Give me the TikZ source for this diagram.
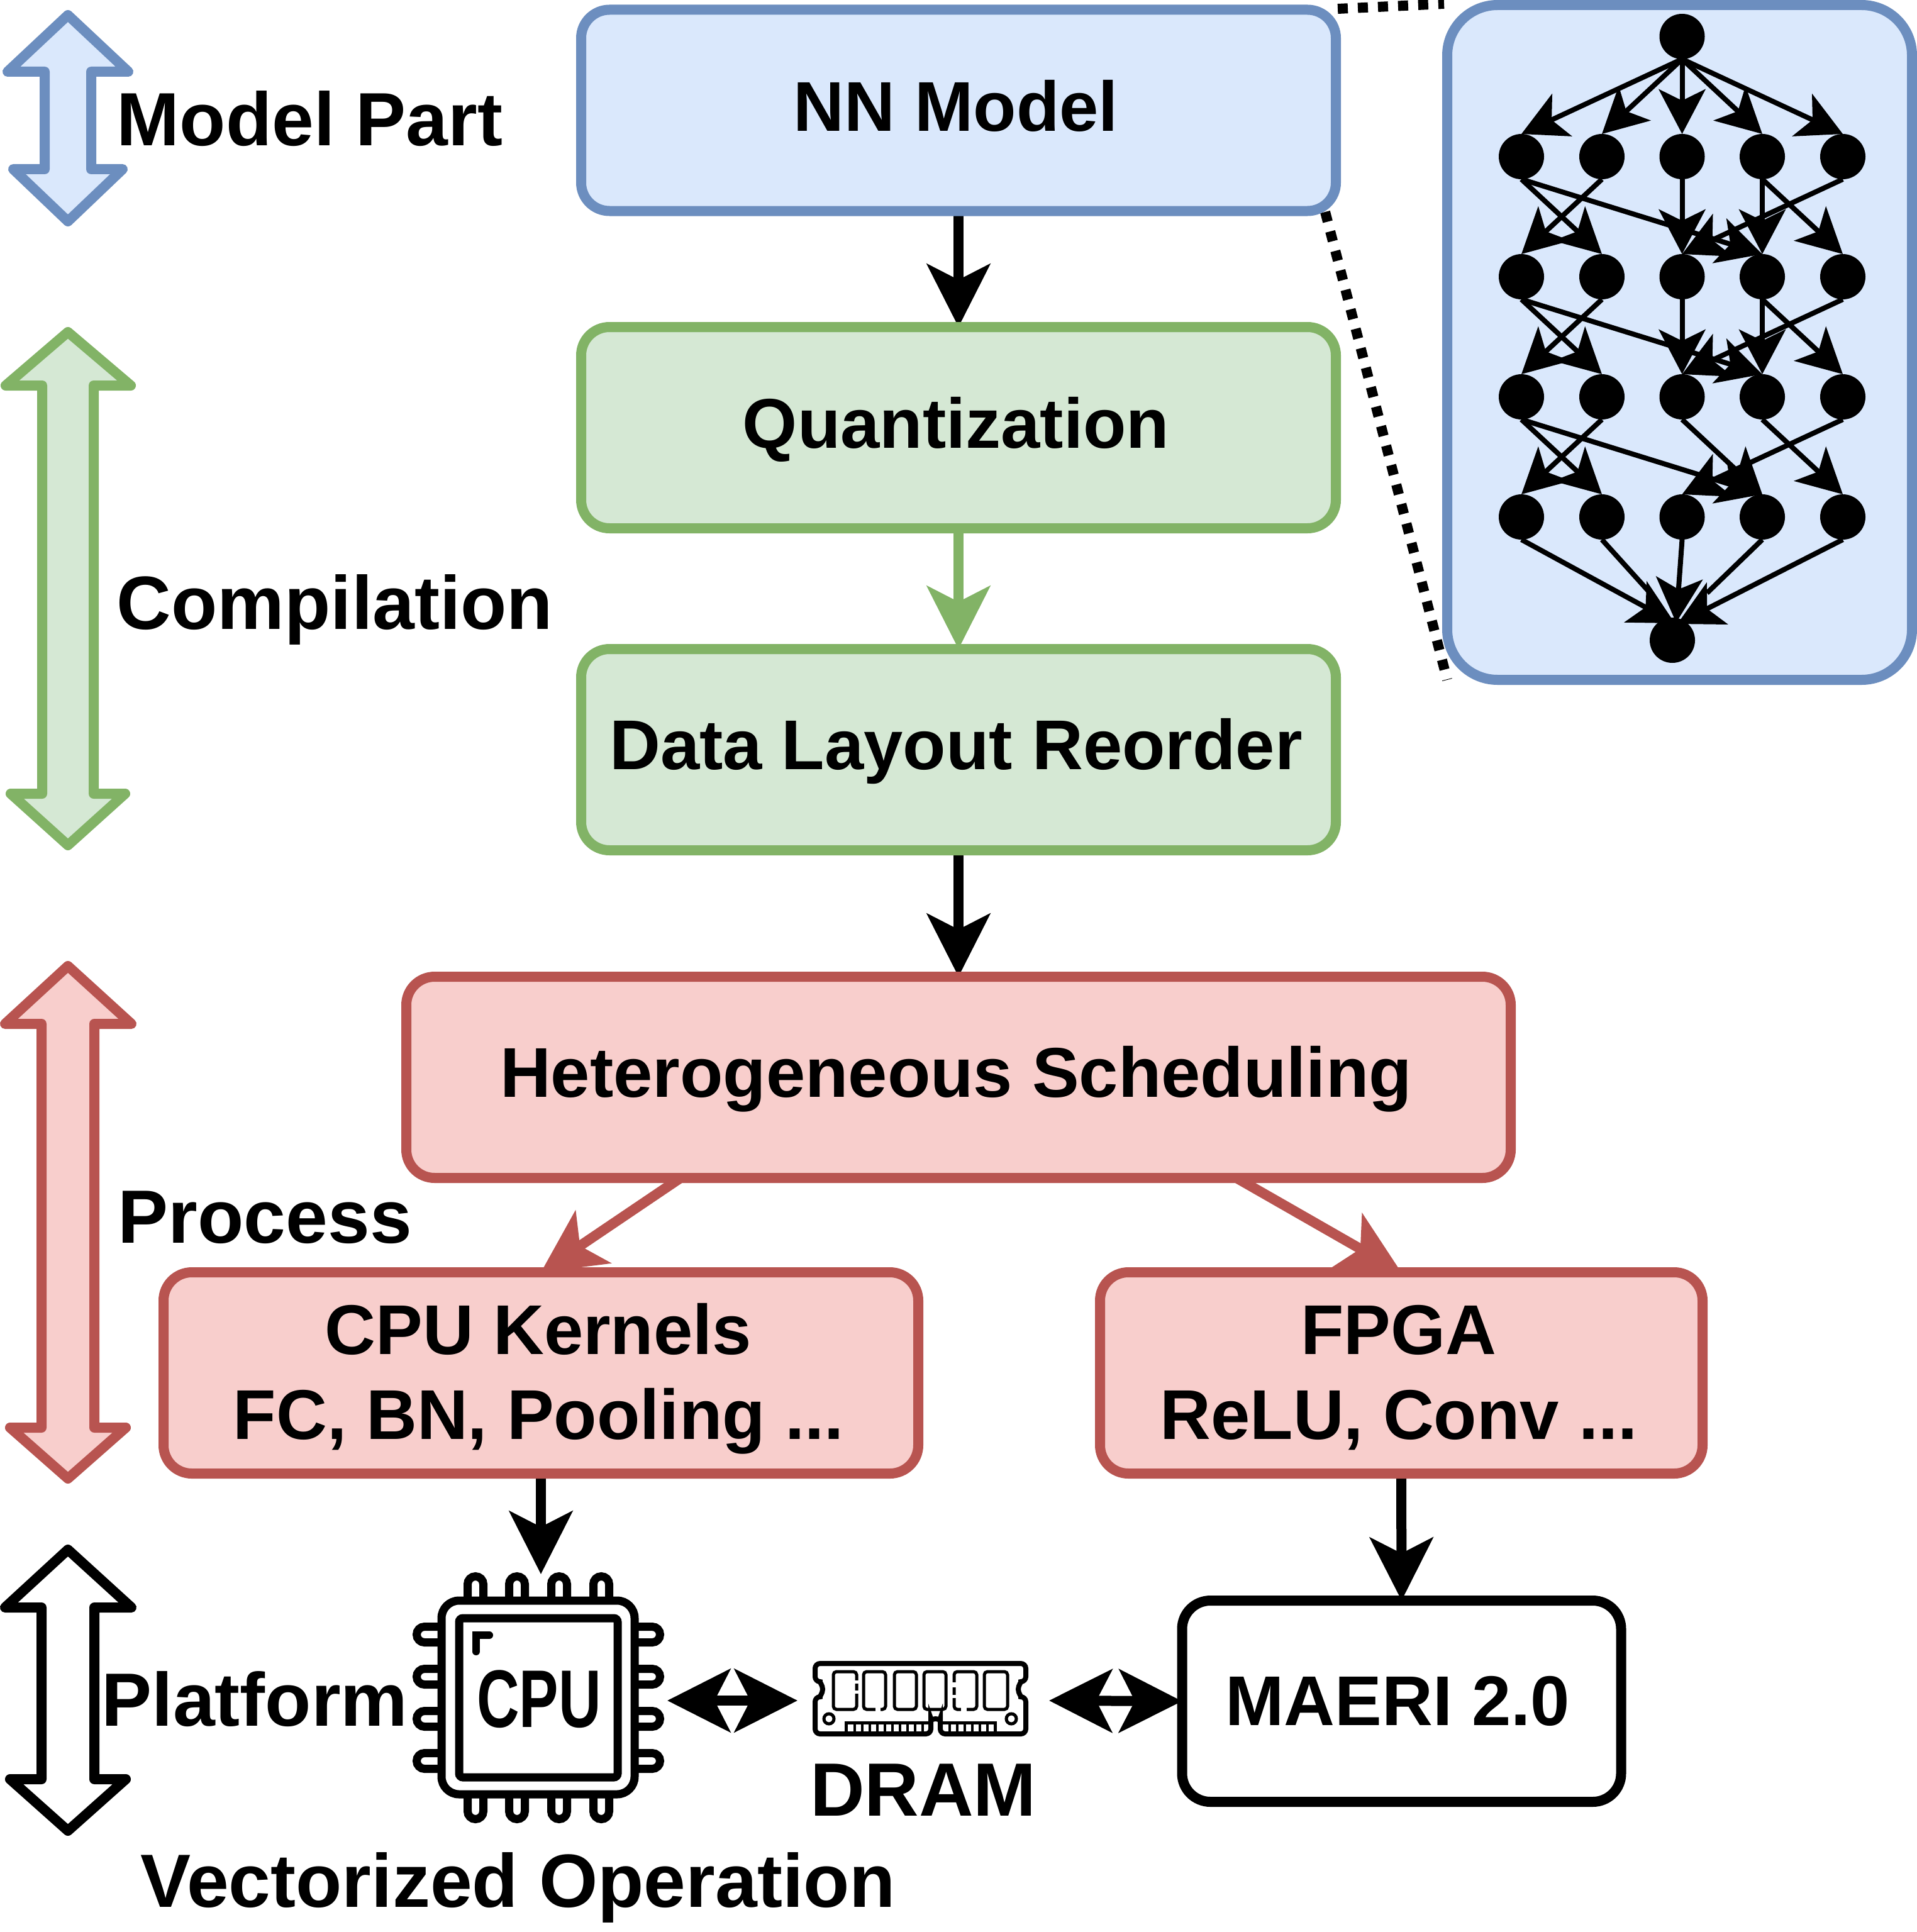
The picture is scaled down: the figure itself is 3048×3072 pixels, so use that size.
\documentclass[tikz,border=0pt]{standalone}
\usepackage{fontspec}
\setmainfont{Liberation Sans}
\usetikzlibrary{arrows.meta,backgrounds}
\definecolor{bluefill}{HTML}{DAE8FC}
\definecolor{bluestroke}{HTML}{6C8EBF}
\definecolor{greenfill}{HTML}{D5E8D4}
\definecolor{greenstroke}{HTML}{82B366}
\definecolor{redfill}{HTML}{F8CECC}
\definecolor{redstroke}{HTML}{B85450}
\tikzset{
  bigtip/.tip={Stealth[length=25pt,width=25pt,inset=6.25pt]},
  smalltip/.tip={Stealth[length=17.75pt,width=18.5pt,inset=4.5pt]},
  flowbox/.style={draw,rectangle,rounded corners=11.25pt,line width=4pt,inner sep=0pt,outer sep=0pt,align=center,
    minimum height=80pt,font=\bfseries\fontsize{28}{33.75}\selectfont,text height=20pt,text depth=4.5pt},
  twoline/.style={text height=57.5pt,text depth=5pt},
  bluebox/.style={flowbox,fill=bluefill,draw=bluestroke},
  greenbox/.style={flowbox,fill=greenfill,draw=greenstroke},
  redbox/.style={flowbox,fill=redfill,draw=redstroke},
  plainbox/.style={flowbox,fill=white,draw=black},
  label/.style={font=\bfseries\fontsize{30}{34}\selectfont,anchor=base west,inner sep=0pt},
  flow/.style={line width=4pt,-{bigtip}},
  dflow/.style={line width=4pt,{bigtip}-{bigtip}},
  dot/.style={circle,fill=black,draw=none,minimum size=18pt,inner sep=0pt,outer sep=0pt},
  edge/.style={line width=2pt,-{smalltip}},
  bigarrow/.style={line width=4pt,line join=round},
  chipline/.style={line width=3.25pt},
  dotline/.style={line width=4pt,dash pattern=on 4pt off 4pt},
}
\begin{document}
\begin{tikzpicture}[x=0.25pt,y=-0.25pt]
\useasboundingbox (0,0) rectangle (3048,3072);
% layer arrows
\draw[bigarrow,fill=bluefill,draw=bluestroke] (108,24)--(204,114)--(145,114)--(145,269)--(195,269)--(108,352)--(21,269)--(71,269)--(71,114)--(12,114)--cycle;
\draw[bigarrow,fill=greenfill,draw=greenstroke] (108,528)--(208,613)--(149,613)--(149,1262)--(199,1262)--(108,1344)--(17,1262)--(67,1262)--(67,613)--(9,613)--cycle;
\draw[bigarrow,fill=redfill,draw=redstroke] (108,1536)--(209,1628)--(150,1628)--(150,2270)--(200,2270)--(108,2351)--(16,2270)--(66,2270)--(66,1628)--(8,1628)--cycle;
\draw[bigarrow,fill=white,draw=black] (108,2464)--(209,2556)--(150,2556)--(150,2829)--(200,2829)--(108,2911)--(16,2829)--(66,2829)--(66,2556)--(8,2556)--cycle;
% layer labels
\node[label] (lmodel) at (185,232) {Model Part};
\node[label] (lcomp) at (185,1000) {Compilation};
\node[label] (lproc) at (187,1976) {Process};
\node[label] (lplat) at (161,2744) {Platform};
\node[label] (lvec) at (223,3032) {Vectorized Operation};
% flow boxes
\node[bluebox,text depth=3.25pt,minimum width=300pt] (nn) at (1524,175.5) {NN Model\kern2pt};
\node[greenbox,text depth=4pt,minimum width=300pt] (quant) at (1524,680) {Quantization\kern2pt};
\node[greenbox,minimum width=300pt] (layout) at (1524,1192) {Data Layout Reorder\kern2pt};
\node[redbox,minimum width=439pt] (het) at (1524,1713) {Heterogeneous Scheduling\kern2pt};
\node[redbox,twoline,minimum width=300pt] (cpuk) at (860,2183) {CPU Kernels\kern2pt\\FC, BN, Pooling ...\kern2pt};
\node[redbox,twoline,minimum width=239.5pt] (fpga) at (2228,2183) {FPGA\kern2pt\\ReLU, Conv ...\kern2pt};
\node[plainbox,text height=20pt,text depth=1pt,minimum width=174.5pt] (maeri) at (2228.5,2705) {MAERI 2.0\kern3pt};
% connectors, behind the boxes
\coordinate (dotA) at (2127,14);
\coordinate (dotB) at (2296,6);
\coordinate (dotC) at (2107,337);
\coordinate (dotD) at (2301,1081);
\coordinate (hetL) at (1082,1873);
\coordinate (hetR) at (1966,1873);
\coordinate (cpuTop) at (860,2503);
\coordinate (cpuRight) at (1061,2704);
\coordinate (dramLeft) at (1268,2704);
\coordinate (dramRight) at (1668,2704);
\begin{scope}[on background layer]
\draw[dotline] (dotA) -- (dotB);
\draw[dotline] (dotC) -- (dotD);
\draw[flow] (nn.south) -- (quant.north);
\draw[flow,draw=greenstroke,fill=greenstroke] (quant.south) -- (layout.north);
\draw[flow] (layout.south) -- (het.north);
\draw[flow,draw=redstroke,fill=redstroke] (hetL) -- (cpuk.north);
\draw[flow,draw=redstroke,fill=redstroke] (hetR) -- (fpga.north);
\draw[flow] (cpuk.south) -- (cpuTop);
\draw[flow] (fpga.south) -- (maeri.north);
\draw[dflow] (cpuRight) -- (dramLeft);
\draw[dflow] (dramRight) -- (maeri.west);
\end{scope}
% CPU icon
\foreach \p in {756,822,889,956}{
  \draw[chipline] (\p-12.5,2539) -- (\p-12.5,2519) arc[start angle=180,end angle=0,radius=3.125pt] -- (\p+12.5,2539);
  \draw[chipline] (\p-12.5,2859) -- (\p-12.5,2880) arc[start angle=180,end angle=360,radius=3.125pt] -- (\p+12.5,2859);
}
\foreach \p in {2599,2666,2733,2800}{
  \draw[chipline] (696,\p+12.5) -- (675,\p+12.5) arc[start angle=270,end angle=90,radius=3.125pt] -- (696,\p-12.5);
  \draw[chipline] (1015,\p-12.5) -- (1037,\p-12.5) arc[start angle=90,end angle=-90,radius=3.125pt] -- (1015,\p+12.5);
}
\draw[chipline,fill=white,rounded corners=7pt] (702,2545) rectangle (1009,2853);
\draw[chipline,rounded corners=1.5pt] (730,2573) rectangle (982,2826);
\draw[line width=3pt,line cap=round] (757,2626) -- (757,2600) -- (778,2600);
\node[inner sep=0pt,anchor=base] (cputext) at (857,2746) {\scalebox{0.72}[1]{\bfseries\fontsize{32.5}{34}\selectfont CPU}};
% DRAM icon
\draw[line width=2pt,rounded corners=2pt] (1296,2645) -- (1631,2645) -- (1631,2674)
  arc[start angle=90,end angle=270,radius=3pt] -- (1631,2757) -- (1495,2757) -- (1495,2740.5)
  arc[start angle=0,end angle=180,radius=1.875pt] -- (1480,2757) -- (1296,2757) -- (1296,2698)
  arc[start angle=-90,end angle=90,radius=3pt] -- cycle;
\foreach \a/\b in {1325/1362,1373/1408,1422/1457,1469/1504,1517/1553,1565/1602}{
  \draw[line width=1.25pt,rounded corners=1.25pt] (\a,2658) rectangle (\b,2718);
}
\draw[white,line width=1.5pt] (1362,2672) -- (1362,2677);
\draw[white,line width=1.5pt] (1362,2688) -- (1362,2693);
\draw[white,line width=1.5pt] (1392,2718) -- (1400,2718);
\draw[white,line width=1.5pt] (1517,2675) -- (1517,2683);
\draw[white,line width=1.5pt] (1517,2695) -- (1517,2700);
\draw[white,line width=1.5pt] (1528,2718) -- (1537,2718);
\draw[line width=1.25pt] (1318,2733) circle[radius=2pt];
\draw[line width=1.25pt] (1608,2733) circle[radius=2pt];
\draw[line width=1.25pt] (1345,2757) -- (1345,2739) -- (1480,2739);
\draw[line width=1.25pt] (1495,2739) -- (1582,2739) -- (1582,2757);
\foreach \k in {1,...,10}{\draw[line width=1pt] (1347+12*\k,2739) -- (1347+12*\k,2757);}
\foreach \k in {1,...,6}{\draw[line width=1pt] (1498+12*\k,2739) -- (1498+12*\k,2757);}
\node[inner sep=0pt,anchor=base,font=\bfseries\fontsize{30}{34}\selectfont] (dram) at (1468,2887) {DRAM};
% detail panel
\draw[line width=4pt,draw=bluestroke,fill=bluefill,rounded corners=20pt] (2301,8) rectangle (3040,1081);
\node[dot] (n0) at (2674.5,58) {};
\node[dot] (n11) at (2419,249) {};
\node[dot] (n12) at (2547,249) {};
\node[dot] (n13) at (2674.5,249) {};
\node[dot] (n14) at (2802,249) {};
\node[dot] (n15) at (2930,249) {};
\node[dot] (n21) at (2419,440) {};
\node[dot] (n22) at (2547,440) {};
\node[dot] (n23) at (2674.5,440) {};
\node[dot] (n24) at (2802,440) {};
\node[dot] (n25) at (2930,440) {};
\node[dot] (n31) at (2419,631) {};
\node[dot] (n32) at (2547,631) {};
\node[dot] (n33) at (2674.5,631) {};
\node[dot] (n34) at (2802,631) {};
\node[dot] (n35) at (2930,631) {};
\node[dot] (n41) at (2419,822) {};
\node[dot] (n42) at (2547,822) {};
\node[dot] (n43) at (2674.5,822) {};
\node[dot] (n44) at (2802,822) {};
\node[dot] (n45) at (2930,822) {};
\node[dot] (n5) at (2659,1018) {};
\coordinate (n5a) at (2663,991);
\coordinate (n5b) at (2665,990);
\coordinate (n5c) at (2667,992);
\coordinate (n5l) at (2622,941);
\coordinate (n5r) at (2714,943);
\foreach \a/\b in {n0/n11,n0/n12,n0/n13,n0/n14,n0/n15,
  n11/n22,n11/n24,n12/n21,n13/n23,n14/n24,n14/n25,n15/n23,
  n21/n32,n21/n34,n22/n31,n23/n33,n24/n34,n24/n35,n25/n33,
  n31/n42,n31/n44,n32/n41,n33/n44,n34/n45,n35/n43}{
  \draw[edge] (\a.south) -- (\b.north);
}
\draw[edge] (n41.south) -- (n5a);
\draw[edge] (n43.south) -- (n5b);
\draw[edge] (n45.south) -- (n5c);
\draw[line width=2pt] (n42.south) -- (n5l);
\draw[line width=2pt] (n44.south) -- (n5r);
\end{tikzpicture}
\end{document}
